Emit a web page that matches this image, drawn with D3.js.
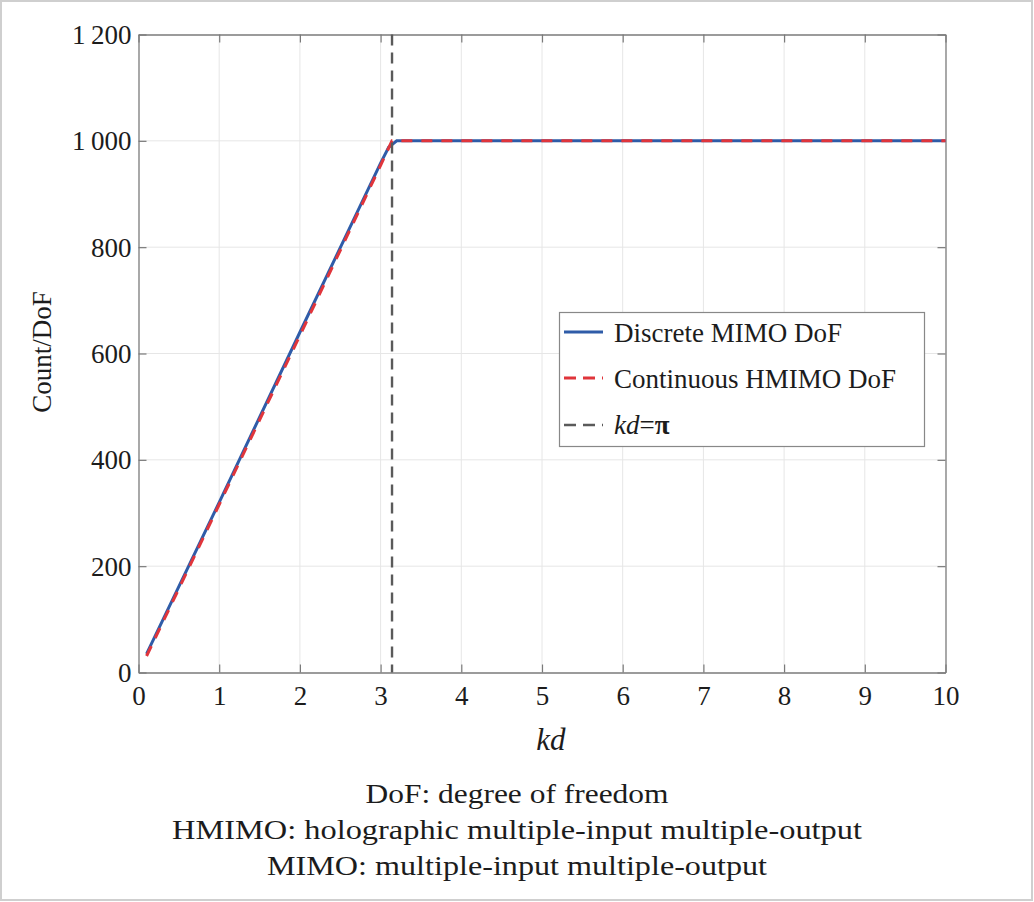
<!DOCTYPE html>
<html><head><meta charset="utf-8">
<script src="https://cdn.jsdelivr.net/npm/d3@7"></script>
<style>
html,body{margin:0;padding:0;background:#fff;}
svg{display:block;font-family:"Liberation Serif","Times New Roman",serif;}
</style></head>
<body><svg id="c" width="1034" height="902"></svg>
<script>
// ---- data ----
const discreteKd  = [0.1, 1.0, 2.0, 3.0, 3.1, 3.2, 10];
const discreteDoF = [35, 320, 640, 958, 988, 1000, 1000];
const continuousKd  = [0.1, 1.0, 2.0, 3.0, 3.14159, 10];
const continuousDoF = [31, 316, 634, 954, 1000, 1000];
const thresholdKd = 3.14159;
const xTicks = [0,1,2,3,4,5,6,7,8,9,10];
const yTicks = [0,200,400,600,800,1000,1200];
const yTickLabels = ["0","200","400","600","800","1\u2009000","1\u2009200"];
const legendLabels = ["Discrete MIMO DoF","Continuous HMIMO DoF"];
const captionLines = ["DoF: degree of freedom",
  "HMIMO: holographic multiple-input multiple-output",
  "MIMO: multiple-input multiple-output"];

// ---- layout ----
const svg = d3.select("#c");
const L = 138.5, R = 945.5, T = 34.5, B = 672.5;
const x = d3.scaleLinear().domain([0,10]).range([L,R]);
const y = d3.scaleLinear().domain([0,1200]).range([B,T]);
const txt = "#1c1c1c";

// outer frame
svg.append("rect").attr("x",1).attr("y",1).attr("width",1031).attr("height",899)
  .attr("fill","#fff").attr("stroke","#cfcfcf").attr("stroke-width",2);

// grid
const g = svg.append("g");
g.selectAll(".gx").data(xTicks.slice(1,-1)).join("line")
  .attr("x1",d=>x(d)).attr("x2",d=>x(d)).attr("y1",T).attr("y2",B)
  .attr("stroke","#e6e6e6").attr("stroke-width",1);
g.selectAll(".gy").data(yTicks.slice(1,-1)).join("line")
  .attr("y1",d=>y(d)).attr("y2",d=>y(d)).attr("x1",L).attr("x2",R)
  .attr("stroke","#e6e6e6").attr("stroke-width",1);

// axes (inward ticks, box)
const axCol = "#7a7a7a";
const axB = svg.append("g").attr("transform",`translate(0,${B})`)
  .call(d3.axisBottom(x).tickValues(xTicks).tickSizeInner(-8).tickSizeOuter(0).tickPadding(12));
const axT = svg.append("g").attr("transform",`translate(0,${T})`)
  .call(d3.axisTop(x).tickValues(xTicks).tickSizeInner(-8).tickSizeOuter(0).tickFormat(""));
const axL = svg.append("g").attr("transform",`translate(${L},0)`)
  .call(d3.axisLeft(y).tickValues(yTicks).tickSizeInner(-8).tickSizeOuter(0).tickPadding(7)
    .tickFormat((d,i)=>yTickLabels[i]));
const axR = svg.append("g").attr("transform",`translate(${R},0)`)
  .call(d3.axisRight(y).tickValues(yTicks).tickSizeInner(-8).tickSizeOuter(0).tickFormat(""));
[axB,axT,axL,axR].forEach(a=>{
  a.selectAll("path").attr("stroke",axCol).attr("stroke-width",1.3);
  a.selectAll("line").attr("stroke",axCol).attr("stroke-width",1.2);
  a.selectAll("text").attr("fill",txt).attr("font-family","Liberation Serif").attr("font-size",27);
});
axB.selectAll("text").attr("dy","0.75em");
axL.selectAll("text").attr("dy","0.33em");

// lines
const line = d3.line().x(d=>x(d[0])).y(d=>y(d[1]));
const dData = discreteKd.map((k,i)=>[k,discreteDoF[i]]);
const cData = continuousKd.map((k,i)=>[k,continuousDoF[i]]);
svg.append("path").datum(dData).attr("d",line).attr("fill","none")
  .attr("stroke","#2f5ca8").attr("stroke-width",3);
svg.append("path").datum(cData).attr("d",line).attr("fill","none")
  .attr("stroke","#e0353b").attr("stroke-width",3).attr("stroke-dasharray","11,9");
svg.append("line").attr("x1",x(thresholdKd)).attr("x2",x(thresholdKd)).attr("y1",T).attr("y2",B)
  .attr("stroke","#5a5a5a").attr("stroke-width",2.4).attr("stroke-dasharray","11,7");

// legend
const lg = svg.append("g");
lg.append("rect").attr("x",559.5).attr("y",312.5).attr("width",365).attr("height",134)
  .attr("fill","#fff").attr("stroke","#888").attr("stroke-width",1.2);
const ly = [332,378,425];
lg.append("line").attr("x1",564).attr("x2",603).attr("y1",ly[0]).attr("y2",ly[0])
  .attr("stroke","#2f5ca8").attr("stroke-width",3);
lg.append("line").attr("x1",564).attr("x2",603).attr("y1",ly[1]).attr("y2",ly[1])
  .attr("stroke","#e0353b").attr("stroke-width",3).attr("stroke-dasharray","12,7");
lg.append("line").attr("x1",564).attr("x2",603).attr("y1",ly[2]).attr("y2",ly[2])
  .attr("stroke","#5a5a5a").attr("stroke-width",2.4).attr("stroke-dasharray","12,7");
legendLabels.forEach((t,i)=>{
  lg.append("text").attr("x",614).attr("y",ly[i]+10).attr("font-size",27).attr("fill",txt).text(t);
});
const t3 = lg.append("text").attr("x",614).attr("y",ly[2]+9).attr("font-size",27).attr("fill",txt);
t3.append("tspan").attr("font-style","italic").text("kd");
t3.append("tspan").text("=");
t3.append("tspan").attr("font-weight","bold").text("π");

// axis labels
svg.append("text").attr("x",551).attr("y",750).attr("text-anchor","middle")
  .attr("font-size",31).attr("font-style","italic").attr("fill",txt).text("kd");
svg.append("text").attr("transform","translate(51,352) rotate(-90)").attr("text-anchor","middle")
  .attr("font-size",27).attr("fill",txt).text("Count/DoF");

// caption
const capY = [803,839,875];
const capW = [303,690,500];
captionLines.forEach((t,i)=>{
  svg.append("text").attr("x",517).attr("y",capY[i]).attr("text-anchor","middle")
    .attr("font-size",28).attr("fill",txt)
    .attr("textLength",capW[i]).attr("lengthAdjust","spacingAndGlyphs").text(t);
});
</script></body></html>
